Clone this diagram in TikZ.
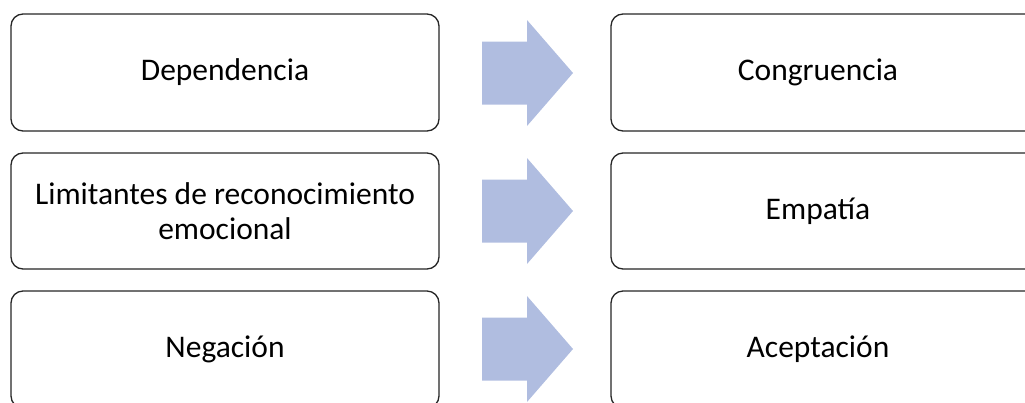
\documentclass[tikz,border=0pt]{standalone}
\usepackage{fontspec}
\setmainfont{Carlito}
\definecolor{arrowblue}{HTML}{B0BDE0}
\begin{document}
\begin{tikzpicture}[x=1pt,y=-1pt,
  itembox/.style={draw=black!85, line width=1.3pt, rounded corners=12pt, fill=white},
  itemtext/.style={font=\fontsize{31.5}{35}\selectfont, align=center},
  bigarrow/.style={fill=arrowblue, draw=none}]
\useasboundingbox (0,0) rectangle (1025,402);
\begin{scope}
\clip (0,0) rectangle (1025,402);
% left column
\draw[itembox] (11,14) rectangle (439,131);
\draw[itembox] (11,153) rectangle (439,269);
\draw[itembox] (11,291) rectangle (439,408);
% right column
\draw[itembox] (611,14) rectangle (1040,131);
\draw[itembox] (611,153) rectangle (1040,269);
\draw[itembox] (611,291) rectangle (1040,408);
% arrows
\foreach \cy/\nm in {73/a1,211/a2,349/a3}{
  \fill[bigarrow] (482,\cy-31.5) -- (527,\cy-31.5) -- (527,\cy-53) -- (573,\cy)
    -- (527,\cy+53) -- (527,\cy+31.5) -- (482,\cy+31.5) -- cycle;
}
\end{scope}
\node[itemtext] (l1) at (225,72.5) {Dependencia};
\node[itemtext] (l2) at (225,211) {Limitantes de reconocimiento\\emocional};
\node[itemtext] (l3) at (225,349) {Negación};
\node[itemtext] (r1) at (818,72.5) {Congruencia};
\node[itemtext] (r2) at (818,211) {Empatía};
\node[itemtext] (r3) at (818,349) {Aceptación};
\end{tikzpicture}
\end{document}
